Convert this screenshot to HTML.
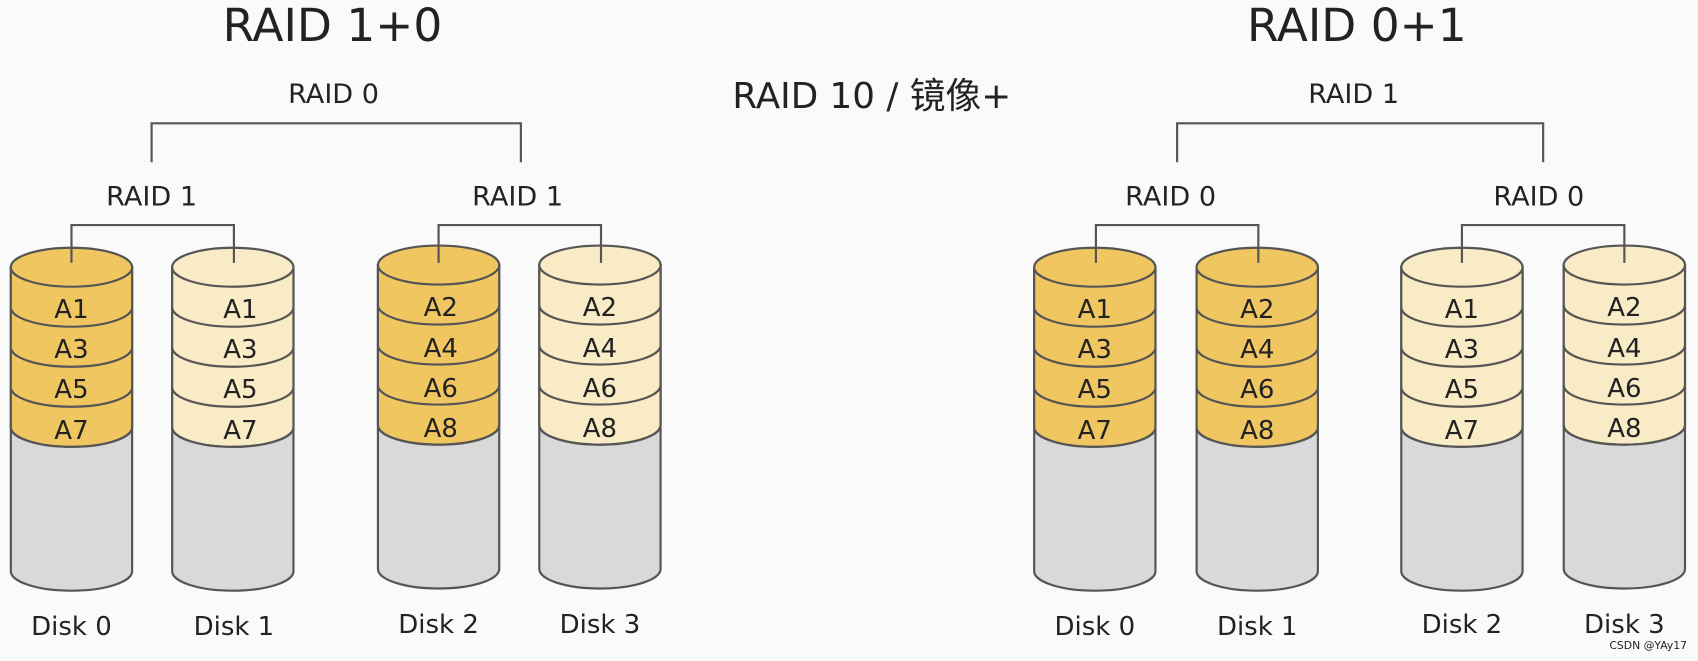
<!DOCTYPE html>
<html><head><meta charset="utf-8"><style>
html,body{margin:0;padding:0;background:#fafafa;}
svg{display:block;}
text{font-family:"DejaVu Sans","Liberation Sans","Noto Sans CJK SC",sans-serif;fill:#222;text-anchor:middle;}
</style></head><body>
<svg id="s" width="1698" height="661" viewBox="0 0 1568 611" preserveAspectRatio="none" xmlns="http://www.w3.org/2000/svg">
<rect width="1568" height="611" fill="#fafafa"/>
<g id="shapes"></g>
<g stroke="#555" stroke-width="2" fill="none">
<path d="M140 150 V114 H481 V150"/>
<path d="M66 243 V208 H216 V243"/><path d="M405 243 V208 H555 V243"/>
<path d="M1087 150 V114 H1425 V150"/>
<path d="M1012 243 V208 H1162 V243"/><path d="M1350 243 V208 H1500 V243"/>
</g>
<text x="307" y="38" font-size="42">RAID 1+0</text>
<text x="1253" y="38" font-size="42">RAID 0+1</text>
<text x="308" y="95" font-size="25">RAID 0</text>
<text x="1250" y="95" font-size="25">RAID 1</text>
<text x="805" y="100" font-size="33">RAID 10 / 镜像+</text>
<text x="140" y="190" font-size="25">RAID 1</text>
<text x="478" y="190" font-size="25">RAID 1</text>
<text x="1081" y="190" font-size="25">RAID 0</text>
<text x="1421" y="190" font-size="25">RAID 0</text>
<g font-size="24">
<text x="66" y="294">A1</text><text x="66" y="331">A3</text><text x="66" y="368">A5</text><text x="66" y="406">A7</text>
<text x="222" y="294">A1</text><text x="222" y="331">A3</text><text x="222" y="368">A5</text><text x="222" y="406">A7</text>
<text x="407" y="292">A2</text><text x="407" y="330">A4</text><text x="407" y="367">A6</text><text x="407" y="404">A8</text>
<text x="554" y="292">A2</text><text x="554" y="330">A4</text><text x="554" y="367">A6</text><text x="554" y="404">A8</text>
<text x="1011" y="294">A1</text><text x="1011" y="331">A3</text><text x="1011" y="368">A5</text><text x="1011" y="406">A7</text>
<text x="1161" y="294">A2</text><text x="1161" y="331">A4</text><text x="1161" y="368">A6</text><text x="1161" y="406">A8</text>
<text x="1350" y="294">A1</text><text x="1350" y="331">A3</text><text x="1350" y="368">A5</text><text x="1350" y="406">A7</text>
<text x="1500" y="292">A2</text><text x="1500" y="330">A4</text><text x="1500" y="367">A6</text><text x="1500" y="404">A8</text>
</g>
<g font-size="24">
<text x="66" y="587">Disk 0</text><text x="216" y="587">Disk 1</text>
<text x="405" y="585">Disk 2</text><text x="554" y="585">Disk 3</text>
<text x="1011" y="587">Disk 0</text><text x="1161" y="587">Disk 1</text>
<text x="1350" y="585">Disk 2</text><text x="1500" y="585">Disk 3</text>
</g>
<text x="1522" y="600" font-size="10" fill="#666">CSDN @YAy17</text>
</svg>
<script>
var g=document.getElementById('shapes'),NS='http://www.w3.org/2000/svg';
function p(d,f,s){var e=document.createElementNS(NS,'path');e.setAttribute('d',d);e.setAttribute('fill',f);e.setAttribute('stroke',s||'none');e.setAttribute('stroke-width','2');g.appendChild(e);}
function cyl(cx,col,top){var rx=56,ry=18,x0=cx-rx,x1=cx+rx,b=top+281,c=top+148;
p('M'+x0+' '+top+' L'+x0+' '+b+' A'+rx+' '+ry+' 0 0 0 '+x1+' '+b+' L'+x1+' '+top+' Z','#d9d9d9','#555');
p('M'+x0+' '+top+' L'+x0+' '+c+' A'+rx+' '+ry+' 0 0 0 '+x1+' '+c+' L'+x1+' '+top+' Z',col,'#555');
for(var k=1;k<=4;k++){var y=top+37*k;p('M'+x0+' '+y+' A'+rx+' '+ry+' 0 0 0 '+x1+' '+y,'none','#555');}
var e=document.createElementNS(NS,'ellipse');e.setAttribute('cx',cx);e.setAttribute('cy',top);e.setAttribute('rx',rx);e.setAttribute('ry',ry);e.setAttribute('fill',col);e.setAttribute('stroke','#555');e.setAttribute('stroke-width','2');g.appendChild(e);}
var D='#f0c661',L='#f8ebc6';
cyl(66,D,247);cyl(215,L,247);cyl(405,D,245);cyl(554,L,245);
cyl(1011,D,247);cyl(1161,D,247);cyl(1350,L,247);cyl(1500,L,245);
</script>
</body></html>
